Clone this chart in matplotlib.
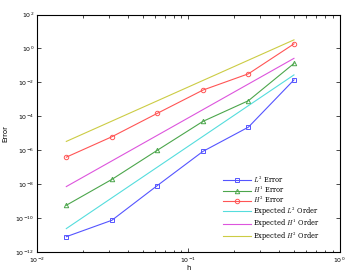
import numpy as np
import matplotlib
matplotlib.use('Agg')
import matplotlib.pyplot as plt

h = [1/64, 1/32, 1/16, 1/8, 1/4, 1/2]

l2_err = [8e-12, 7.4e-11, 8.3e-9, 8.5e-7, 2.3e-5, 1.4e-2]
h1_err = [5.7e-10, 1.9e-8, 1e-6, 5e-5, 8.3e-4, 0.13]
h2_err = [3.9e-7, 6.2e-6, 1.5e-4, 3.5e-3, 0.032, 1.86]

# expected order lines (end points only, straight on log-log)
h_ref = [1/64, 1/2]
exp_l2 = [2.4e-11, 2.75e-2]
exp_h1 = [7.2e-9, 0.26]
exp_h2 = [3.3e-6, 3.2]

plt.rcParams['mathtext.fontset'] = 'cm'
plt.rcParams['axes.linewidth'] = 0.8

fig = plt.figure(figsize=(3.53, 2.73), dpi=100)
ax = fig.add_axes([37/353, 1 - 252/273, (339.5 - 37)/353, (252 - 14.5)/273])

ax.loglog(h, l2_err, '-s', color='#5555ff', lw=0.8, ms=3.2, mfc='none', mew=0.7, label='$L^2$ Error')
ax.loglog(h, h1_err, '-^', color='#4ca64c', lw=0.8, ms=3.2, mfc='none', mew=0.7, label='$H^1$ Error')
ax.loglog(h, h2_err, '-o', color='#ff5555', lw=0.8, ms=3.2, mfc='none', mew=0.7, label='$H^2$ Error')
ax.loglog(h_ref, exp_l2, '-', color='#55dddd', lw=0.8, label='Expected $L^2$ Order')
ax.loglog(h_ref, exp_h1, '-', color='#dd55dd', lw=0.8, label='Expected $H^1$ Order')
ax.loglog(h_ref, exp_h2, '-', color='#cccc44', lw=0.8, label='Expected $H^2$ Order')

ax.set_xlim(1e-2, 1e0)
ax.set_ylim(1e-12, 1e2)
ax.set_yticks([10.0**k for k in range(-12, 3, 2)])
ax.yaxis.set_minor_locator(matplotlib.ticker.NullLocator())
ax.tick_params(which='both', direction='in', top=True, right=True, labelsize=4.5, pad=2)
ax.tick_params(axis='x', which='both', pad=3)
ax.tick_params(which='major', length=3, width=0.5)
ax.tick_params(which='minor', length=1.8, width=0.5)

ax.set_xlabel('h', fontsize=5, labelpad=0)
ax.set_ylabel('Error', fontsize=5, labelpad=5)

leg = ax.legend(loc='lower right', bbox_to_anchor=(0.95, 0.02), frameon=False,
                prop={'family': 'DejaVu Serif', 'size': 4.8}, handlelength=4.2,
                labelspacing=0.05, handletextpad=0.4, borderpad=0.2)

fig.savefig('out.png', dpi=100)
